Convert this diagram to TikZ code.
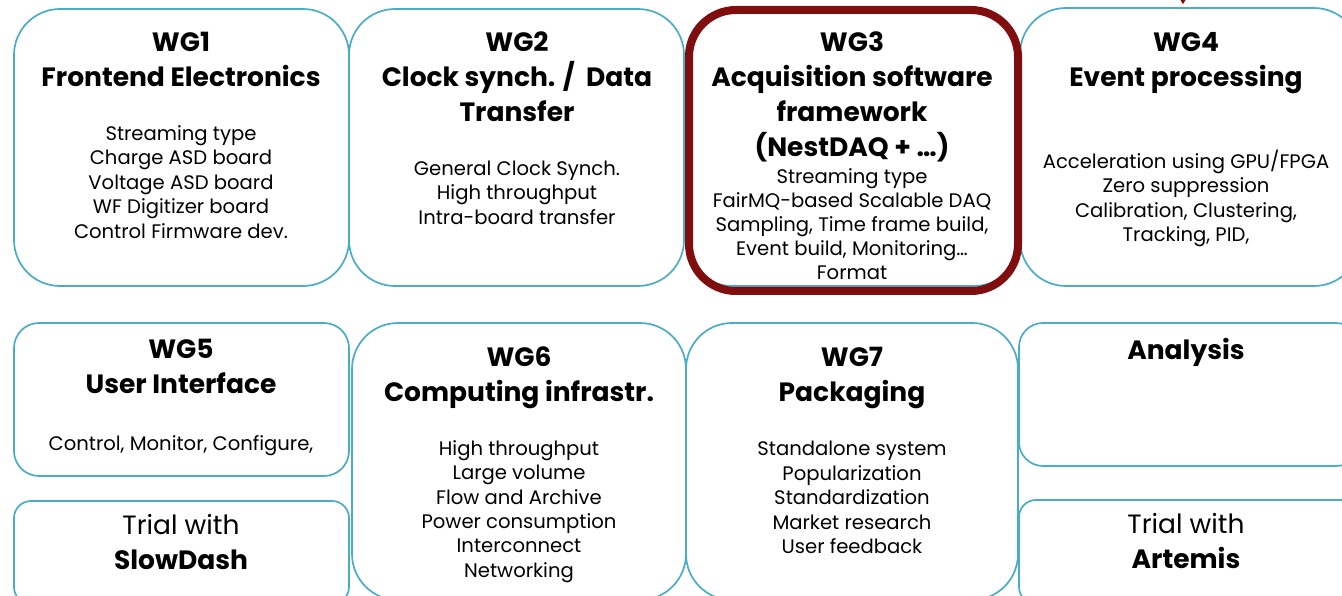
\documentclass[tikz,border=0pt]{standalone}
\usepackage{fontspec}
\setmainfont{Poppins}
\usetikzlibrary{arrows.meta}
\definecolor{wgblue}{RGB}{75,172,198}
\definecolor{wgred}{RGB}{128,14,14}

\begin{document}
\begin{tikzpicture}[x=1pt,y=-1pt,
  box/.style={draw=wgblue, line width=1.7pt, rectangle, inner sep=0pt, fill=none},
  focusframe/.style={draw=wgred, line width=8pt, rectangle, inner sep=0pt},
  title/.style={font=\fontsize{26.5}{35}\selectfont\bfseries, align=center, inner sep=0pt},
  body/.style={font=\fontsize{19.6}{24.4}\selectfont, align=center, inner sep=0pt},
  trial/.style={font=\fontsize{26.5}{35}\selectfont, align=center, inner sep=0pt},
]
\useasboundingbox (0,0) rectangle (1342,596);

% top row of working groups
\node[box, rounded corners=46pt, minimum width=335pt, minimum height=277pt] (wg1) at (181.5,147.5) {};
\node[box, rounded corners=46pt, minimum width=335pt, minimum height=277pt] (wg2) at (516.5,147.5) {};
\node[box, rounded corners=46pt, minimum width=334pt, minimum height=277pt] (wg3) at (853,147.5) {};
\node[box, rounded corners=46pt, minimum width=340pt, minimum height=278pt] (wg4) at (1190,147) {};
\node[focusframe, rounded corners=47pt, minimum width=329pt, minimum height=281pt] (focus) at (853.5,150.5) {};

% bottom row
\node[box, rounded corners=25pt, minimum width=335pt, minimum height=153pt] (wg5) at (181.5,399.5) {};
\node[box, rounded corners=17pt, minimum width=335pt, minimum height=103pt] (slowdash) at (181.5,552.5) {};
\node[box, rounded corners=46pt, minimum width=334pt, minimum height=277pt] (wg6) at (519,461.5) {};
\node[box, rounded corners=46pt, minimum width=332pt, minimum height=277pt] (wg7) at (852,461.5) {};
\node[box, rounded corners=24pt, minimum width=341pt, minimum height=143pt] (analysis) at (1189.5,394.5) {};
\node[box, rounded corners=17pt, minimum width=341pt, minimum height=104pt] (artemis) at (1189.5,552) {};

% incoming arrow into WG4
\coordinate (feed) at (1183,-40);
\draw[wgred, line width=1.5pt, -{Triangle[length=6pt,width=7pt]}] (feed) -- ([xshift=-7pt,yshift=3pt]wg4.north);

% texts
\node[title] (t1) at (181,59.5) {WG1\\Frontend Electronics};
\node[body] (b1) at (181,182) {Streaming type\\Charge ASD board\\Voltage ASD board\\WF Digitizer board\\Control Firmware dev.};

\node[title] (t2) at (517,76.5) {WG2\\Clock synch. /\ \ Data\\Transfer};
\node[body] (b2) at (517,192.5) {General Clock Synch.\\High throughput\\Intra-board transfer};

\node[title] (t3) at (852,97) {WG3\\Acquisition software\\framework\\(NestDAQ + …)};
\node[body, font=\fontsize{19.6}{24}\selectfont] (b3) at (852,224.5) {Streaming type\\FairMQ-based Scalable DAQ\\Sampling, Time frame build,\\Event build, Monitoring…\\Format};

\node[title] (t4) at (1186,63.5) {WG4\\Event processing};
\node[body] (b4) at (1186,198.5) {Acceleration using GPU/FPGA\\Zero suppression\\Calibration, Clustering,\\Tracking, PID,};

\node[title] (t5) at (181,366.5) {WG5\\User Interface};
\node[body] (b5) at (181,446) {Control, Monitor, Configure,};

\node[trial] (t8) at (181,542.5) {Trial with\\\textbf{SlowDash}};

\node[title] (t6) at (519,377.5) {WG6\\Computing infrastr.};
\node[body] (b6) at (519,511.5) {High throughput\\Large volume\\Flow and Archive\\Power consumption\\Interconnect\\Networking};

\node[title] (t7) at (852,377.5) {WG7\\Packaging};
\node[body] (b7) at (852,497.5) {Standalone system\\Popularization\\Standardization\\Market research\\User feedback};

\node[title] (t9) at (1186,352) {Analysis};
\node[trial] (t10) at (1186,541.5) {Trial with\\\textbf{Artemis}};
\end{tikzpicture}
\end{document}
